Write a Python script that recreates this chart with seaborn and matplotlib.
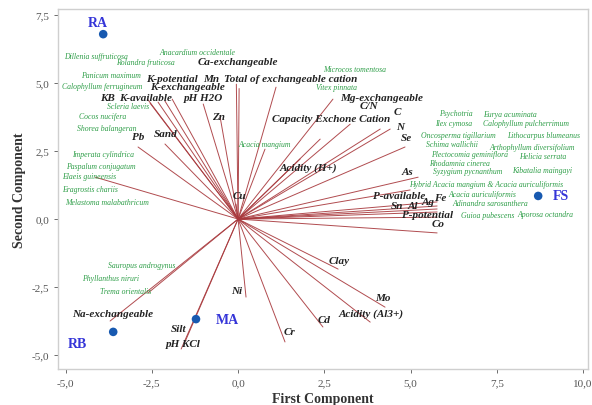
import matplotlib
matplotlib.use("Agg")
import matplotlib.pyplot as plt
import seaborn as sns
import pandas as pd

# ---- loading vectors (variables) ----
var_names = ["K-potential", "K-exchangeable", "K-available", "KB", "", "pH H2O", "Zn",
             "Ca-exchangeable", "Mn", "Total of exchangeable cation", "Sand", "Pb", "",
             "Mg-exchangeable", "C/N", "Capacity Exchone Cation", "C", "N", "Se",
             "Acidity (H+)", "", "As", "P-available", "Fe", "Ag", "Al", "Sn", "P-potential",
             "Co", "Cu", "Clay", "Mo", "Acidity (Al3+)", "Cd", "Cr", "Ni", "Silt", "pH KCl",
             "Na-exchangeable", ""]
var_x = [-1.91, -2.12, -2.32, -2.55, -2.62, -1.01, -0.52,
         -0.05, 0.03, 1.10, -2.12, -2.90, -4.14,
         2.75, 3.25, 2.38, 4.12, 4.41, 4.84,
         1.80, 0.78, 5.22, 4.99, 5.77, 5.77, 5.77, 5.77, 5.77,
         5.77, -0.06, 2.90, 4.26, 3.83, 2.46, 1.36, 0.23, -1.54, -1.65,
         -3.71, -2.61]
var_y = [4.41, 4.34, 4.30, 4.26, 4.40, 4.23, 3.75,
         4.96, 4.80, 4.85, 2.76, 2.65, 1.54,
         4.41, 3.49, 2.94, 3.31, 3.31, 2.65,
         2.21, 2.57, 1.54, 1.07, 0.63, 0.48, 0.37, 0.26, 0.07,
         -0.51, 0.55, -1.84, -3.24, -3.79, -3.97, -4.52, -2.87, -4.52, -4.78,
         -3.75, -2.72]

# variable label anchors (component space)
lab_names = ["Ca-exchangeable", "K-potential", "Mn", "Total of exchangeable cation",
             "K-exchangeable", "KB", "K-available", "pH H2O", "Zn", "Pb", "Sand",
             "Mg-exchangeable", "C/N", "Capacity Exchone Cation", "C", "N", "Se",
             "Acidity (H+)", "As", "P-available", "Ag", "Fe", "Sn", "Al", "P-potential",
             "Co", "Cu", "Clay", "Mo", "Acidity (Al3+)", "Cd", "Cr", "Ni", "Silt",
             "pH KCl", "Na-exchangeable"]
lab_x = [0.00, -1.91, -0.78, 1.52, -1.48, -3.80, -2.67, -1.01, -0.58, -2.90, -2.09,
         4.17, 3.80, 2.70, 4.62, 4.70, 4.87, 2.03, 4.90, 4.67, 5.51, 5.86, 4.60, 5.07,
         5.48, 5.80, 0.03, 2.93, 4.20, 3.86, 2.49, 1.48, -0.03, -1.71, -1.59, -3.65]
lab_y = [5.81, 5.18, 5.18, 5.18, 4.89, 4.48, 4.48, 4.48, 3.79, 3.05, 3.13,
         4.48, 4.19, 3.68, 3.97, 3.42, 3.01, 1.91, 1.76, 0.88, 0.66, 0.81, 0.51, 0.51,
         0.15, -0.18, 0.88, -1.51, -2.90, -3.46, -3.68, -4.12, -2.61, -4.04, -4.56, -3.46]

# ---- species (green) ----
sp_names = ["Dillenia suffruticosa", "Anacardium occidentale", "Rolandra fruticosa",
            "Panicum maximum", "Calophyllum ferrugineum", "Scleria laevis", "Cocos nucifera",
            "Shorea balangeran", "Imperata cylindrica", "Paspalum conjugatum",
            "Elaeis guineensis", "Eragrostis chariis", "Melastoma malabathricum",
            "Acacia mangium", "Microcos tomentosa", "Vitex pinnata", "Psychotria",
            "Eurya acuminata", "Ilex cymosa", "Calophyllum pulcherrimum",
            "Oncosperma tigillarium", "Lithocarpus blumeanus", "Schima wallichii",
            "Arthophyllum diversifolium", "Plectocomia geminiflora", "Helicia serrata",
            "Rhodamnia cinerea", "Syzygium pycnanthum", "Kibatalia maingayi",
            "Hybrid Acacia mangium & Acacia auriculiformis", "Acacia auriculiformis",
            "Adinandra sarosanthera", "Guioa pubescens", "Aporosa octandra",
            "Sauropus androgynus", "Phyllanthus niruri", "Trema orientalis"]
sp_x = [-4.12, -1.19, -2.70, -3.68, -3.94, -3.19, -3.94, -3.80, -3.91, -3.97, -4.32,
        -4.29, -3.80, 0.78, 3.39, 2.84, 6.32, 7.88, 6.26, 8.35, 6.38, 8.87, 6.20,
        8.52, 6.72, 8.84, 6.43, 6.67, 8.81, 7.19, 7.07, 7.30, 7.25, 8.90,
        -2.78, -3.71, -3.25]
sp_y = [5.99, 6.14, 5.77, 5.29, 4.89, 4.15, 3.79, 3.35, 2.39, 1.95, 1.58, 1.10, 0.63,
        2.76, 5.51, 4.85, 3.89, 3.86, 3.53, 3.53, 3.09, 3.09, 2.76, 2.65, 2.39, 2.32,
        2.06, 1.76, 1.80, 1.29, 0.92, 0.59, 0.15, 0.18, -1.69, -2.17, -2.65]

# ---- sites ----
site_names = ["RA", "RB", "MA", "FS"]
site_x = [-3.91, -3.62, -1.22, 8.70]
site_y = [6.80, -4.15, -3.68, 0.85]

sns.set_theme(style="white")
plt.rcParams["font.family"] = ["Liberation Serif", "DejaVu Serif"]

fig = plt.figure(figsize=(5.92, 4.06), dpi=100)
ax = fig.add_axes([0.098, 0.089, 0.895, 0.886])

line_col = "#a8383c"
for x, y in zip(var_x, var_y):
    ax.plot([0, x], [0, y], color=line_col, lw=0.7, alpha=0.9, zorder=1)

for n, x, y in zip(lab_names, lab_x, lab_y):
    ax.text(x, y, n, fontsize=8, fontweight="bold", fontstyle="italic",
            color="#222222", ha="center", va="center", zorder=3)

for n, x, y in zip(sp_names, sp_x, sp_y):
    ax.text(x, y, n, fontsize=5.6, fontstyle="italic", color="#2e9e48",
            ha="center", va="center", zorder=3)

sites = pd.DataFrame({"name": site_names, "x": site_x, "y": site_y})
sns.scatterplot(data=sites, x="x", y="y", color="#1759b0", s=38, edgecolor="none",
                ax=ax, zorder=4)
offsets = {"RA": (-0.17, 0.42), "RB": (-1.04, -0.42),
           "MA": (0.58, 0.0), "FS": (0.42, 0.0)}
for n, x, y in zip(site_names, site_x, site_y):
    dx, dy = offsets[n]
    ax.text(x + dx, y + dy, n, fontsize=10, fontweight="bold", color="#3535d8",
            ha="center" if n in ("RA", "RB") else "left", va="center", zorder=4)

ax.set_xlim(-5.22, 10.14)
ax.set_ylim(-5.51, 7.72)
ax.set_xticks([-5, -2.5, 0, 2.5, 5, 7.5, 10])
ax.set_xticklabels(["-5,0", "-2,5", "0,0", "2,5", "5,0", "7,5", "10,0"])
ax.set_yticks([-5, -2.5, 0, 2.5, 5, 7.5])
ax.set_yticklabels(["-5,0", "-2,5", "0,0", "2,5", "5,0", "7,5"])
ax.tick_params(axis="both", labelsize=8, colors="#555555", length=3, width=0.6,
               direction="out", left=True, bottom=True)
for s in ax.spines.values():
    s.set_color("#cfcfcf")
    s.set_linewidth(1.0)
ax.set_xlabel("First Component", fontsize=10, fontweight="bold", color="#333333",
              labelpad=4)
ax.set_ylabel("Second Component", fontsize=10, fontweight="bold", color="#333333",
              labelpad=4)

fig.savefig("out.png", dpi=100)
